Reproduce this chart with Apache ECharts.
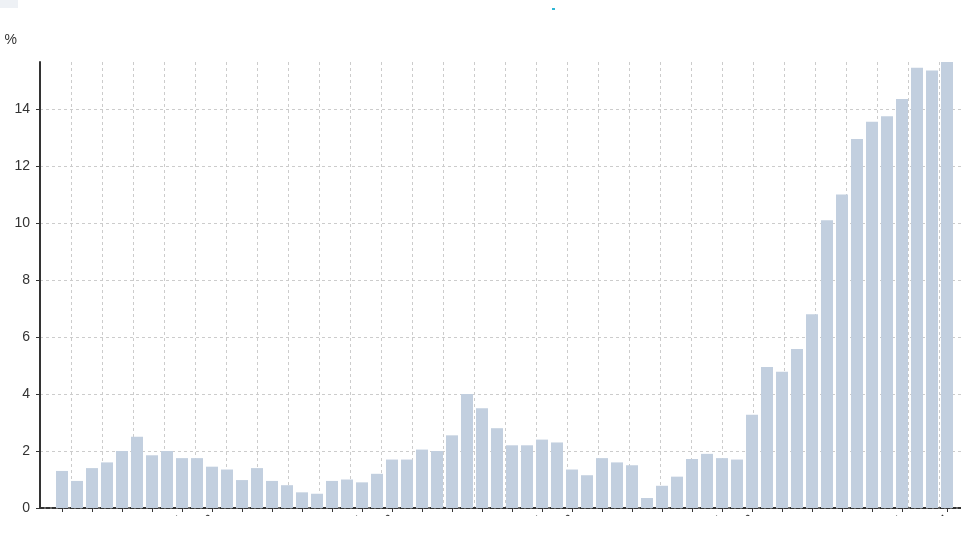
<!DOCTYPE html>
<html>
<head>
<meta charset="utf-8">
<script src="https://cdn.jsdelivr.net/npm/echarts@6/dist/echarts.min.js"></script>
<style>
html,body{margin:0;padding:0;background:#fff;}
#chart{width:961px;height:516px;}
</style>
</head>
<body>
<div id="chart"></div>
<script>
// Categories: monthly periods
const startYear = 2019, startMonth = 5;
const months = [];
for (let i = 0; i < 60; i++) {
  const m = (startMonth - 1 + i) % 12 + 1;
  const y = startYear + Math.floor((startMonth - 1 + i) / 12);
  months.push(y + '-' + (m < 10 ? '0' + m : m));
}
// Series values (%)
const values = [
  1.3, 0.95, 1.4, 1.6, 2.0, 2.5, 1.85, 2.0, 1.75, 1.75,
  1.45, 1.35, 0.98, 1.4, 0.95, 0.8, 0.55, 0.5, 0.95, 1.0,
  0.9, 1.2, 1.7, 1.7, 2.05, 2.0, 2.55, 4.0, 3.5, 2.8,
  2.2, 2.2, 2.4, 2.3, 1.35, 1.15, 1.75, 1.6, 1.5, 0.35,
  0.78, 1.1, 1.72, 1.9, 1.75, 1.7, 3.27, 4.95, 4.78, 5.58,
  6.8, 10.1, 11.0, 12.95, 13.55, 13.75, 14.35, 15.45, 15.35, 15.65
];
const yTicks = [0, 2, 4, 6, 8, 10, 12, 14];
const yName = '%';

const yMax = Math.max(...values);
const last = months.length - 1;
const chart = echarts.init(document.getElementById('chart'), null, {renderer: 'canvas'});
const splitColors = yTicks.map(() => '#cccccc').concat(['rgba(0,0,0,0)']);

chart.setOption({
  animation: false,
  backgroundColor: '#fff',
  graphic: [
    {type: 'rect', left: 0, top: 0, shape: {width: 18, height: 8}, style: {fill: '#eef1f5'}},
    {type: 'rect', left: 552, top: 8, shape: {width: 3, height: 2}, style: {fill: '#2fb6d4'}}
  ],
  grid: [
    {left: 40, right: -9, top: 62, bottom: 8, containLabel: false, outerBoundsMode: 'none'},
    {left: 54.5, right: 6.5, top: 62, bottom: 8, containLabel: false, outerBoundsMode: 'none'}
  ],
  xAxis: [
    {
      type: 'value', gridIndex: 0, min: 0, max: 30, interval: 1,
      axisLabel: {show: false}, axisTick: {show: false},
      axisLine: {show: true, lineStyle: {color: '#333', width: 2, type: [4, 2]}},
      splitLine: {show: true, lineStyle: {color: '#cccccc', type: [3, 3]}}
    },
    {
      type: 'category', gridIndex: 1, data: months,
      axisLine: {show: false},
      axisTick: {show: true, alignWithLabel: true, length: 4,
        interval: (i) => (i % 2 === 0 && i !== last - 1) || i === last,
        lineStyle: {color: '#333'}},
      axisLabel: {show: true, rotate: 45, margin: 9, fontSize: 12, color: '#333',
        interval: (i) => { const m = months[i].slice(5); return (i < last - 3 && (m === '01' || m === '03')) || i === last - 3 || i === last; }},
      splitLine: {show: false}
    }
  ],
  yAxis: [
    {
      type: 'value', gridIndex: 0, min: 0, max: yMax, interval: 2,
      name: yName, nameLocation: 'end', nameGap: 15,
      nameTextStyle: {color: '#333', fontSize: 14, align: 'right', padding: [0, 23, 0, 0]},
      axisLine: {show: true, lineStyle: {color: '#333', width: 2}},
      axisTick: {show: true, length: 4, lineStyle: {color: '#333'}},
      axisLabel: {color: '#333', fontSize: 14, margin: 10, showMaxLabel: false},
      splitLine: {show: true, lineStyle: {color: splitColors, type: [3, 3]}}
    },
    {
      type: 'value', gridIndex: 1, min: 0, max: yMax,
      show: false, splitLine: {show: false}
    }
  ],
  series: [{
    type: 'bar', xAxisIndex: 1, yAxisIndex: 1, data: values,
    barWidth: 12,
    itemStyle: {color: '#c2cfdf'}
  }]
});
</script>
</body>
</html>
